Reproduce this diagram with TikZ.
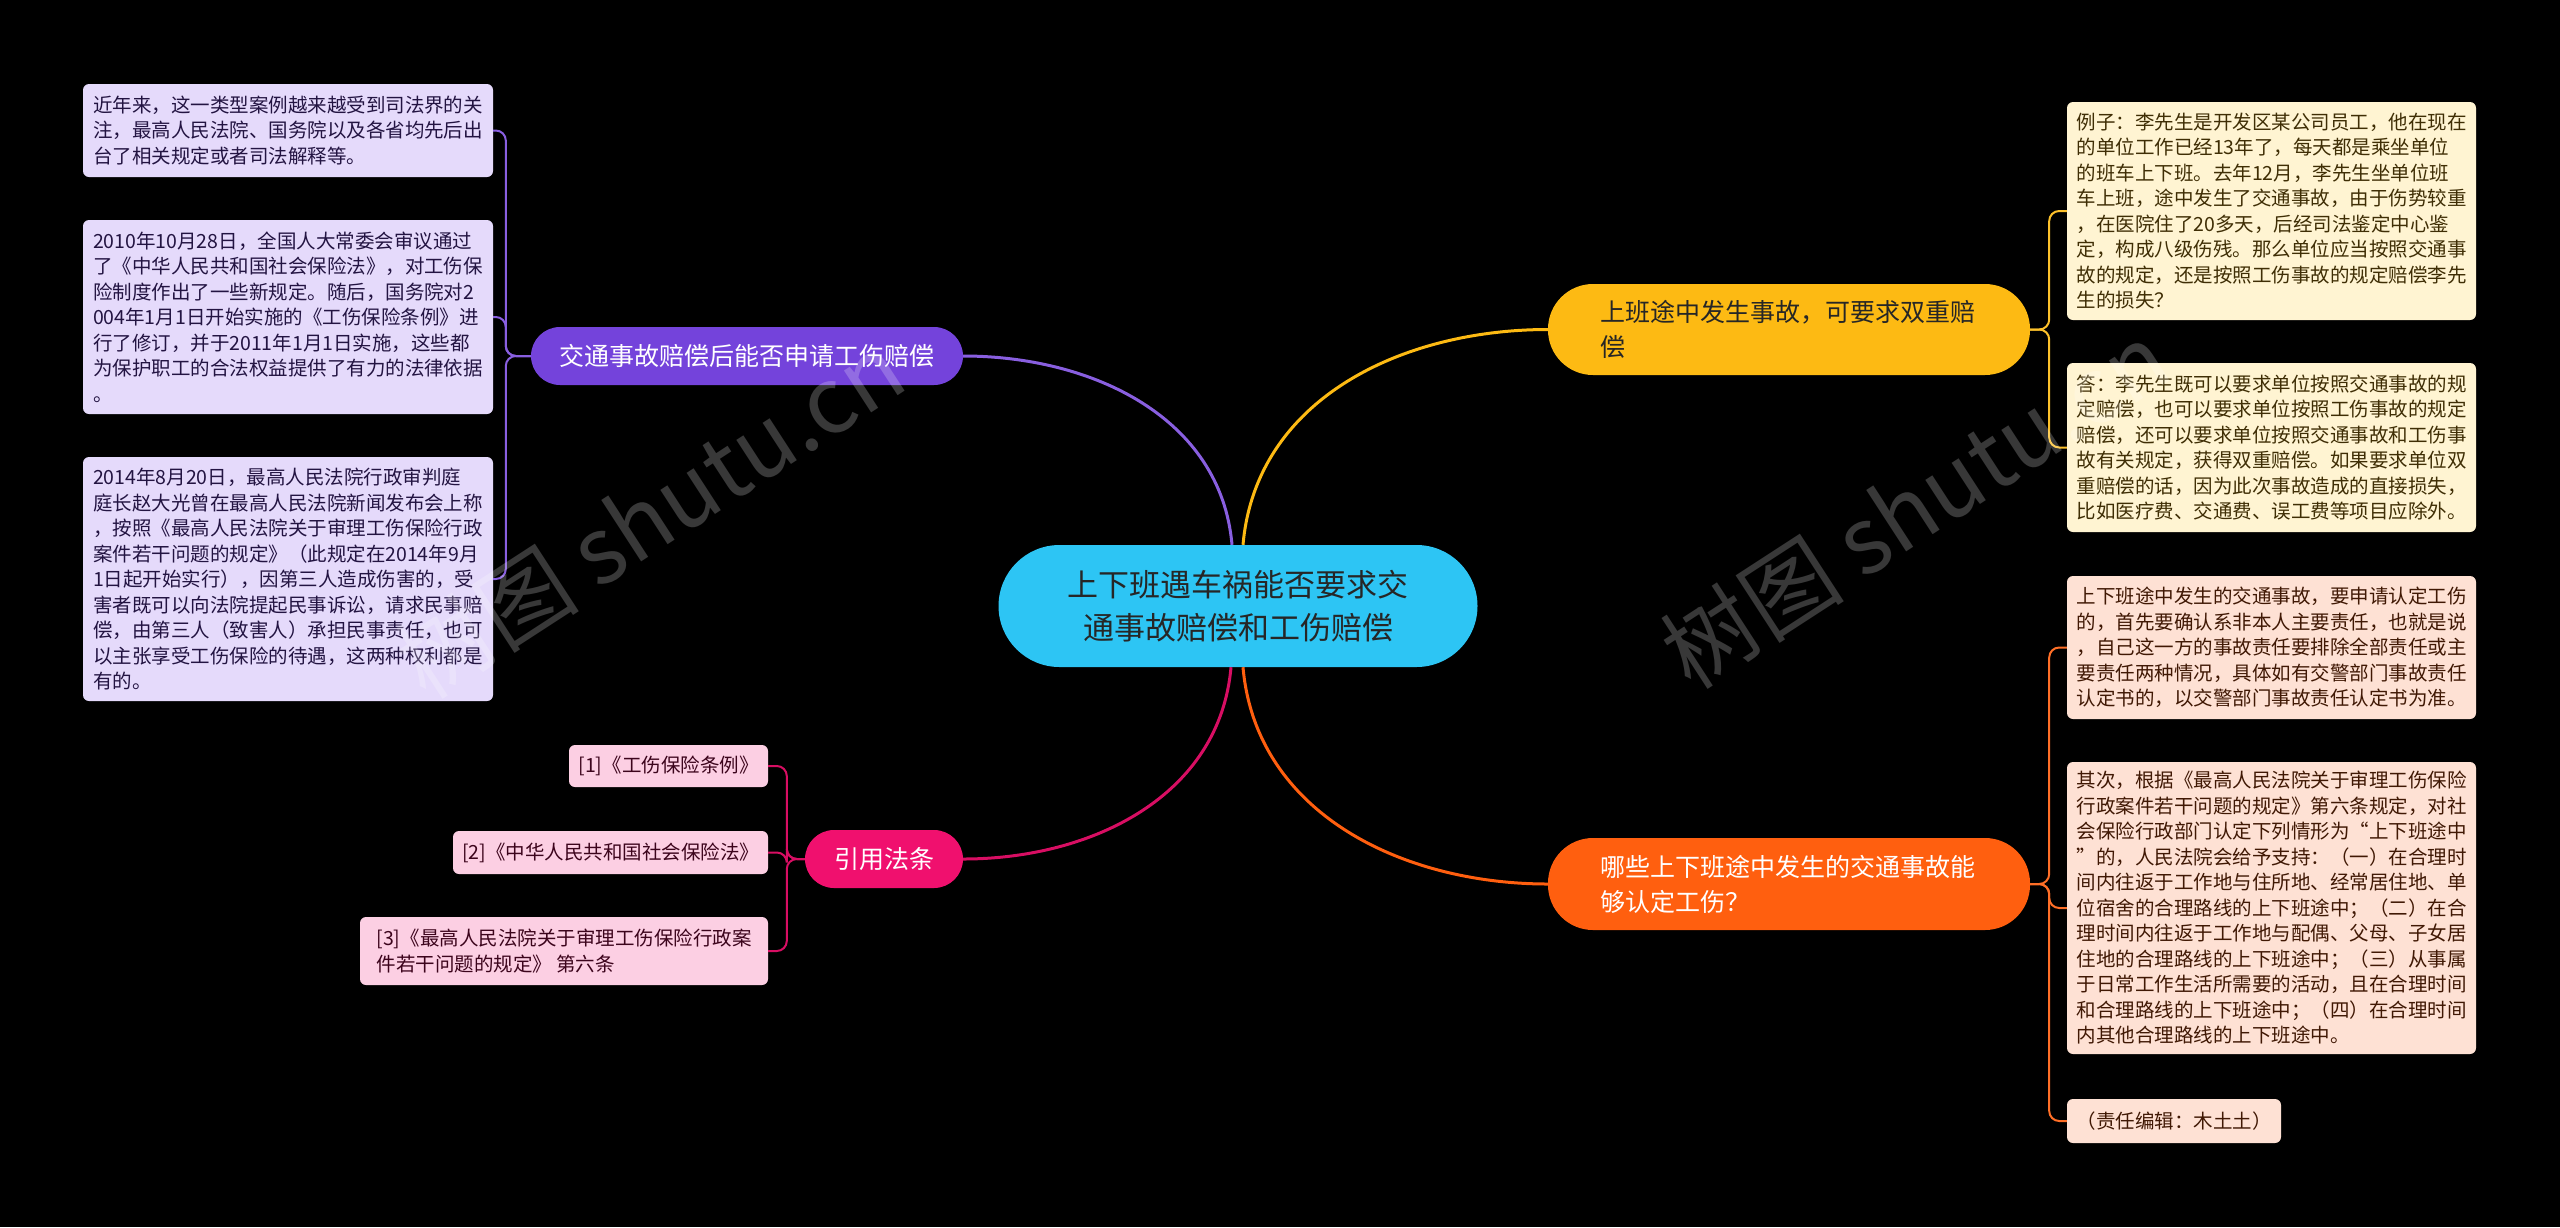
\documentclass[tikz,border=0pt]{standalone}
\usepackage{fontspec}
\setmainfont{Noto Sans CJK SC}
\usetikzlibrary{positioning}
\definecolor{rootblue}{HTML}{2DC5F4}
\definecolor{claimpurple}{HTML}{7443DB}
\definecolor{claimleaf}{HTML}{E5DAFB}
\definecolor{doubleyellow}{HTML}{FDBA13}
\definecolor{doubleleaf}{HTML}{FFF4D2}
\definecolor{injuryorange}{HTML}{FF5F0F}
\definecolor{injuryleaf}{HTML}{FEE1D4}
\definecolor{citepink}{HTML}{F0106E}
\definecolor{citeleaf}{HTML}{FCCFE3}

\begin{document}
\begin{tikzpicture}[
  x=1pt, y=1pt,
  every node/.style={rectangle, align=left, inner sep=0pt},
  leaf/.style={rounded corners=6pt, font=\fontsize{19.5}{25.5}\selectfont},
  branch/.style={font=\fontsize{25}{35}\selectfont},
  joint/.style={line width=2pt, rounded corners=10pt},
  trunk/.style={line width=3pt}
]

% Background
\fill[black] (0,0) rectangle (2560,-1227);
\useasboundingbox (0,0) rectangle (2560,-1227);

% Centre node
\node[fill=rootblue, text=black!85, rounded corners=61pt, align=center,
  minimum width=479, minimum height=122,
  font=\fontsize{31}{43}\selectfont] (root) at (1238,-606)
  {上下班遇车祸能否要求交\\通事故赔偿和工伤赔偿};

% Branch: claim (left, purple)
\node[branch, fill=claimpurple, text=white, rounded corners=29pt, align=center,
  minimum width=432, minimum height=58] (claim) at (747,-356)
  {交通事故赔偿后能否申请工伤赔偿};

% Branch: double (right, yellow)
\node[branch, fill=doubleyellow, text=black!85, rounded corners=45pt,
  text width=378, minimum width=482, minimum height=91] (double) at (1789,-329.5)
  {上班途中发生事故，可要求双重赔\\偿};

% Branch: injury (right, orange)
\node[branch, fill=injuryorange, text=white, rounded corners=45pt,
  text width=378, minimum width=482, minimum height=92] (injury) at (1789,-884)
  {哪些上下班途中发生的交通事故能\\够认定工伤？};

% Branch: cite (left, pink)
\node[branch, fill=citepink, text=white, rounded corners=29pt, align=center,
  minimum width=158, minimum height=58] (cite) at (884,-859) {引用法条};

% Leaves of claim
\node[leaf, fill=claimleaf, text=claimpurple!30!black,
  minimum width=410, minimum height=93] (claimA) at (288,-130.5)
  {近年来，这一类型案例越来越受到司法界的关\\
   注，最高人民法院、国务院以及各省均先后出\\
   台了相关规定或者司法解释等。};
\node[leaf, fill=claimleaf, text=claimpurple!30!black,
  minimum width=410, minimum height=194] (claimB) at (288,-317)
  {2010年10月28日，全国人大常委会审议通过\\
   了《中华人民共和国社会保险法》，对工伤保\\
   险制度作出了一些新规定。随后，国务院对2\\
   004年1月1日开始实施的《工伤保险条例》进\\
   行了修订，并于2011年1月1日实施，这些都\\
   为保护职工的合法权益提供了有力的法律依据\\
   。};
\node[leaf, fill=claimleaf, text=claimpurple!30!black,
  minimum width=410, minimum height=244] (claimC) at (288,-579)
  {2014年8月20日，最高人民法院行政审判庭\\
   庭长赵大光曾在最高人民法院新闻发布会上称\\
   ，按照《最高人民法院关于审理工伤保险行政\\
   案件若干问题的规定》（此规定在2014年9月\\
   1日起开始实行），因第三人造成伤害的，受\\
   害者既可以向法院提起民事诉讼，请求民事赔\\
   偿，由第三人（致害人）承担民事责任，也可\\
   以主张享受工伤保险的待遇，这两种权利都是\\
   有的。};

% Leaves of double
\node[leaf, fill=doubleleaf, text=doubleyellow!25!black,
  minimum width=409, minimum height=218] (doubleA) at (2271.5,-211)
  {例子：李先生是开发区某公司员工，他在现在\\
   的单位工作已经13年了，每天都是乘坐单位\\
   的班车上下班。去年12月，李先生坐单位班\\
   车上班，途中发生了交通事故，由于伤势较重\\
   ，在医院住了20多天，后经司法鉴定中心鉴\\
   定，构成八级伤残。那么单位应当按照交通事\\
   故的规定，还是按照工伤事故的规定赔偿李先\\
   生的损失？};
\node[leaf, fill=doubleleaf, text=doubleyellow!25!black,
  minimum width=409, minimum height=169] (doubleB) at (2271.5,-447.5)
  {答：李先生既可以要求单位按照交通事故的规\\
   定赔偿，也可以要求单位按照工伤事故的规定\\
   赔偿，还可以要求单位按照交通事故和工伤事\\
   故有关规定，获得双重赔偿。如果要求单位双\\
   重赔偿的话，因为此次事故造成的直接损失，\\
   比如医疗费、交通费、误工费等项目应除外。};

% Leaves of injury
\node[leaf, fill=injuryleaf, text=injuryorange!25!black,
  minimum width=409, minimum height=143] (injuryA) at (2271.5,-647.5)
  {上下班途中发生的交通事故，要申请认定工伤\\
   的，首先要确认系非本人主要责任，也就是说\\
   ，自己这一方的事故责任要排除全部责任或主\\
   要责任两种情况，具体如有交警部门事故责任\\
   认定书的，以交警部门事故责任认定书为准。};
\node[leaf, fill=injuryleaf, text=injuryorange!25!black,
  minimum width=409, minimum height=292] (injuryB) at (2271.5,-908)
  {其次，根据《最高人民法院关于审理工伤保险\\
   行政案件若干问题的规定》第六条规定，对社\\
   会保险行政部门认定下列情形为“上下班途中\\
   ”的，人民法院会给予支持：（一）在合理时\\
   间内往返于工作地与住所地、经常居住地、单\\
   位宿舍的合理路线的上下班途中；（二）在合\\
   理时间内往返于工作地与配偶、父母、子女居\\
   住地的合理路线的上下班途中；（三）从事属\\
   于日常工作生活所需要的活动，且在合理时间\\
   和合理路线的上下班途中；（四）在合理时间\\
   内其他合理路线的上下班途中。};
\node[leaf, fill=injuryleaf, text=injuryorange!25!black,
  minimum width=214, minimum height=44] (injuryC) at (2174,-1121)
  {（责任编辑：木土土）};

% Leaves of cite
\node[leaf, fill=citeleaf, text=citepink!25!black,
  minimum width=199, minimum height=42] (citeA) at (668.5,-766)
  {[1]《工伤保险条例》};
\node[leaf, fill=citeleaf, text=citepink!25!black,
  minimum width=315, minimum height=43] (citeB) at (610.5,-852.5)
  {[2]《中华人民共和国社会保险法》};
\node[leaf, fill=citeleaf, text=citepink!25!black,
  minimum width=408, minimum height=68] (citeC) at (564,-951)
  {[3]《最高人民法院关于审理工伤保险行政案\\件若干问题的规定》 第六条};

% Connectors from centre
\draw[trunk, claimpurple!85!white] ([xshift=-6pt]root.north) to[out=95, in=0] (claim.east);
\draw[trunk, doubleyellow] ([xshift=5pt]root.north) to[out=85, in=180] (double.west);
\draw[trunk, citepink!90!black] ([xshift=-7pt]root.south) to[out=-95, in=0] (cite.east);
\draw[trunk, injuryorange] ([xshift=5pt]root.south) to[out=-85, in=180] (injury.west);

% Brackets to leaves
\foreach \leafname in {claimA, claimB, claimC}
  \draw[joint, claimpurple!85!white] (claim.west) -- ++(-25,0) |- (\leafname.east);
\foreach \leafname in {doubleA, doubleB}
  \draw[joint, doubleyellow!90!white] (double.east) -- ++(19,0) |- (\leafname.west);
\foreach \leafname in {injuryA, injuryB, injuryC}
  \draw[joint, injuryorange!90!white] (injury.east) -- ++(19,0) |- (\leafname.west);
\foreach \leafname in {citeA, citeB, citeC}
  \draw[joint, citepink!90!black] (cite.west) -- ++(-18,0) |- (\leafname.east);

% Watermarks
\node[text=white, opacity=0.22, rotate=33, font=\fontsize{92}{92}\selectfont]
  (markL) at (650,-515) {树图 shutu.cn};
\node[text=white, opacity=0.22, rotate=33, font=\fontsize{92}{92}\selectfont]
  (markR) at (1915,-505) {树图 shutu.cn};

\end{tikzpicture}
\end{document}
